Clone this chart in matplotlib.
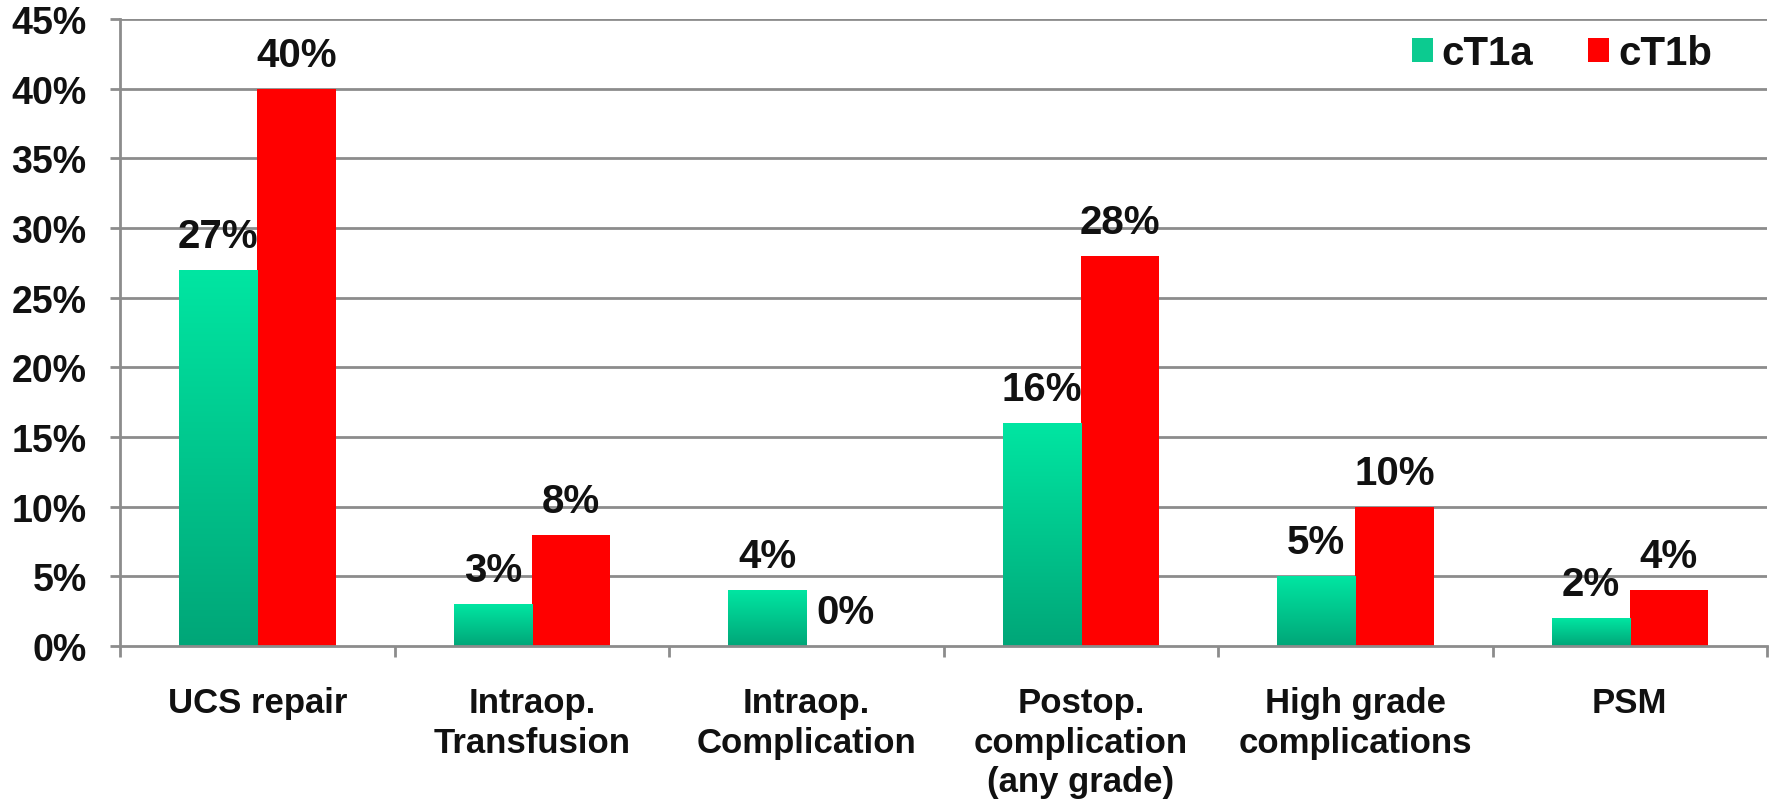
import numpy as np
import matplotlib
matplotlib.use("Agg")
import matplotlib.pyplot as plt
from matplotlib.patches import Patch
from matplotlib.colors import LinearSegmentedColormap
from matplotlib.ticker import FixedLocator, FuncFormatter

plt.rcParams["font.family"] = ["Liberation Sans", "DejaVu Sans"]
plt.rcParams["font.weight"] = "bold"

categories = [
    "UCS repair",
    "Intraop.\nTransfusion",
    "Intraop.\nComplication",
    "Postop.\ncomplication\n(any grade)",
    "High grade\ncomplications",
    "PSM",
]
ct1a = [27, 3, 4, 16, 5, 2]
ct1b = [40, 8, 0, 28, 10, 4]
series_names = ["cT1a", "cT1b"]
y_ticks = [0, 5, 10, 15, 20, 25, 30, 35, 40, 45]

green_top = "#00E6A2"
green_bot = "#00A678"
red = "#FF0000"
grid_col = "#8C8C8C"
text_col = "#111111"

fig = plt.figure(figsize=(17.79, 8.04), dpi=100)
ax = fig.add_axes([0.0675, 0.1953, 0.9258, 0.7797])

x = np.arange(len(categories))
w = 0.285

# horizontal gridlines behind bars
for t in y_ticks[1:]:
    ax.axhline(t, color=grid_col, lw=2, zorder=0)

bars_a = ax.bar(x - w / 2, ct1a, width=w, color="none", edgecolor="none", zorder=2)
bars_b = ax.bar(x + w / 2, ct1b, width=w, color=red, edgecolor="none", zorder=2)

# vertical gradient fill for cT1a bars, clipped to each bar
cmap = LinearSegmentedColormap.from_list("grn", [green_bot, green_top])
grad = np.linspace(0, 1, 256).reshape(-1, 1)
for b in bars_a:
    x0, y0 = b.get_x(), b.get_y()
    bw, bh = b.get_width(), b.get_height()
    if bh <= 0:
        continue
    im = ax.imshow(grad, cmap=cmap, origin="lower", aspect="auto",
                   extent=(x0, x0 + bw, y0, y0 + bh), zorder=2,
                   interpolation="bilinear")
    im.set_clip_path(b)

ax.set_xlim(-0.5, len(categories) - 0.5)
ax.set_ylim(0, 45)

# value labels above bars
for bars, vals in ((bars_a, ct1a), (bars_b, ct1b)):
    for b, v in zip(bars, vals):
        ax.annotate(f"{v}%", (b.get_x() + b.get_width() / 2, v),
                    xytext=(0, 16.5), textcoords="offset points",
                    ha="center", va="baseline", fontsize=29,
                    fontweight="bold", color=text_col, zorder=4)

# axes styling
for s in ("top", "right"):
    ax.spines[s].set_visible(False)
for s in ("left", "bottom"):
    ax.spines[s].set_color(grid_col)
    ax.spines[s].set_linewidth(2)
    ax.spines[s].set_zorder(3)

ax.yaxis.set_major_locator(FixedLocator(y_ticks))
ax.yaxis.set_major_formatter(FuncFormatter(lambda v, p: f"{v:.0f}%"))
ax.tick_params(axis="y", length=7, width=2, color=grid_col, pad=17,
               labelsize=27, labelcolor=text_col)
for lbl in ax.get_yticklabels():
    lbl.set_fontweight("bold")

ax.set_xticks(x)
ax.set_xticklabels(categories, fontsize=25, fontweight="bold", color=text_col,
                   linespacing=1.25, va="top")
ax.tick_params(axis="x", which="major", length=0, pad=29)
ax.set_xticks(np.arange(len(categories) + 1) - 0.5, minor=True)
ax.tick_params(axis="x", which="minor", length=8, width=2, color=grid_col)

handles = [Patch(facecolor="#0CCB90", edgecolor="none"),
           Patch(facecolor=red, edgecolor="none")]
leg = ax.legend(handles, series_names, loc="upper right", ncol=2,
                bbox_to_anchor=(0.9666, 0.976), frameon=False,
                prop={"size": 29, "weight": "bold"},
                handlelength=0.52, handleheight=0.52, handletextpad=0.22,
                columnspacing=1.36, borderaxespad=0, borderpad=0)
for t in leg.get_texts():
    t.set_color(text_col)

fig.savefig("out.png", dpi=100, facecolor="white")
